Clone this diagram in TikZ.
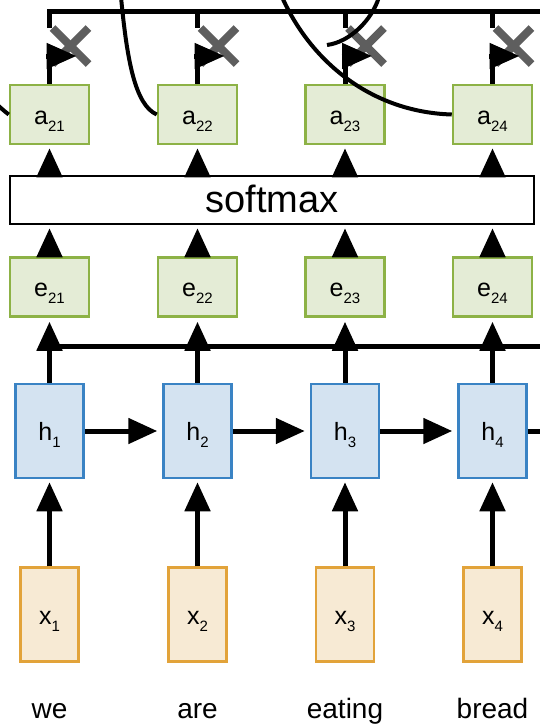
\documentclass[tikz,border=0pt]{standalone}
\usepackage{fontspec}
\setmainfont{Liberation Sans}
\usetikzlibrary{arrows.meta,calc}
\definecolor{gfill}{HTML}{E4ECD6}
\definecolor{gline}{HTML}{8DB246}
\definecolor{bfill}{HTML}{D4E3F1}
\definecolor{bline}{HTML}{3A83C4}
\definecolor{ofill}{HTML}{F7EAD4}
\definecolor{oline}{HTML}{E2A33A}
\definecolor{crossc}{HTML}{5E5E5E}
\newcommand\lab[2]{#1\raisebox{-7pt}{\fontsize{15}{15}\selectfont #2}}
\begin{document}
\begin{tikzpicture}[x=1pt,y=-1pt,
  boxbase/.style={draw, line width=2.5pt, inner sep=0pt, text height=19pt, text depth=0pt,
    font=\fontsize{25}{25}\selectfont},
  gbox/.style={boxbase, fill=gfill, draw=gline, minimum width=79pt, minimum height=59pt},
  hbox/.style={boxbase, fill=bfill, draw=bline, minimum width=68pt, minimum height=94pt},
  xbox/.style={boxbase, fill=ofill, draw=oline, minimum width=58pt, minimum height=94pt},
  smbox/.style={draw, line width=2.5pt, fill=white, inner sep=0pt, minimum width=524pt,
    minimum height=48pt, text height=24pt, text depth=0pt, font=\fontsize{38}{38}\selectfont},
  word/.style={anchor=base, inner sep=0pt, font=\fontsize{28}{28}\selectfont},
  ln/.style={line width=5pt},
  arr/.style={line width=5pt, -{Triangle[length=29pt,width=25pt]}, shorten >=3pt},
  flagarr/.style={line width=5pt, -{Triangle[length=30pt,width=25pt]}},
  crossln/.style={line width=8pt, draw=crossc},
  curve/.style={line width=4pt}]
\useasboundingbox (0,0) rectangle (539,724);

% nodes
\foreach \i/\c in {1/49.5,2/197.5,3/345,4/492.5}{
  \node[gbox] (a\i) at (\c,114.5) {\lab{a}{2\i}};
  \node[gbox] (e\i) at (\c,287) {\lab{e}{2\i}};
  \node[hbox] (h\i) at (\c,431) {\lab{h}{\i}};
  \node[xbox] (x\i) at (\c,614.5) {\lab{x}{\i}};
  \coordinate (top\i) at (\c,11.5);
  \coordinate (mid\i) at (\c,346);
  \coordinate (fl\i) at (\c+27,56);
  \coordinate (flb\i) at (\c-3.5,56);
  \coordinate (m\i) at (\c+21,46);
}
\node[smbox] (sm) at (272,200) {softmax};
\node[word] (w1) at (49.5,718) {we};
\node[word] (w2) at (197.5,718) {are};
\node[word] (w3) at (345,718) {eating};
\node[word] (w4) at (492.5,718) {bread};
\coordinate (rtop) at (545,11.5);
\coordinate (rmid) at (545,346);
\coordinate (rh) at (545,431);

% top sum line
\draw[ln, line join=miter] ($(top1)+(0,16.5)$) -- (top1) -- (rtop);
\foreach \i in {2,3,4}{ \draw[ln] (top\i) -- ++(0,16.5); }

% multiplication crosses
\foreach \i in {1,2,3,4}{
  \draw[crossln] ($(m\i)+(-18,-18)$) -- ($(m\i)+(18,18)$);
  \draw[crossln] ($(m\i)+(18,-18)$) -- ($(m\i)+(-18,18)$);
}

% a -> cross flags
\foreach \i in {1,2,3,4}{
  \draw[ln] (a\i.north) -- (a\i.north |- fl\i);
  \draw[flagarr] (flb\i) -- (fl\i);
}

% curves
\draw[curve] (-6,102) .. controls (0,107) and (4,111) .. (a1.west);
\draw[curve] (121,-3) .. controls (127,60) and (135,105) .. (a2.west);
\draw[curve] (282,-3) .. controls (310,60) and (370,112) .. (a4.west);
\draw[curve] (379,-3) .. controls (372,20) and (350,42) .. (327,45);

% softmax connections
\foreach \i in {1,2,3,4}{
  \draw[arr] (e\i.north) -- (e\i.north |- sm.south);
  \draw[arr] (sm.north -| a\i.south) -- (a\i.south);
}

% h -> e
\draw[ln] (mid1) -- (rmid);
\foreach \i in {1,2,3,4}{
  \draw[arr, shorten >=4pt] (h\i.north) -- (e\i.south);
  \draw[arr] (x\i.north) -- (h\i.south);
}

% recurrent chain
\draw[arr, shorten >=5pt] (h1.east) -- (h2.west);
\draw[arr, shorten >=5pt] (h2.east) -- (h3.west);
\draw[arr, shorten >=5pt] (h3.east) -- (h4.west);
\draw[ln] (h4.east) -- (rh);
\end{tikzpicture}
\end{document}
